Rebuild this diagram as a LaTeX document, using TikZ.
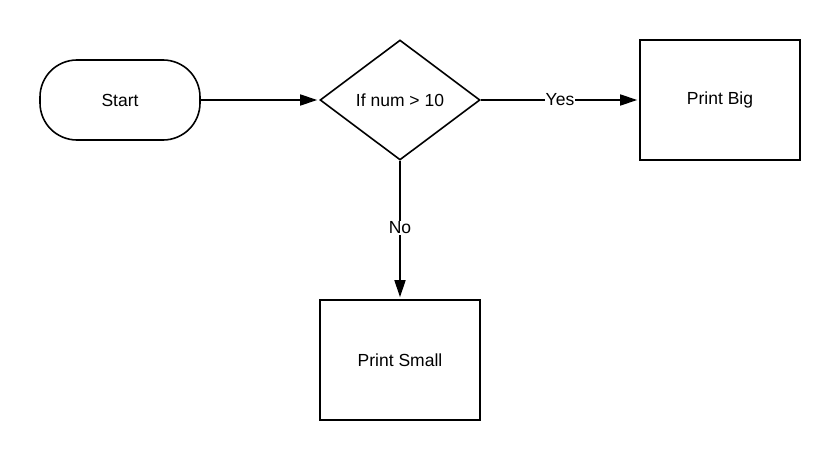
\documentclass[tikz,border=0pt]{standalone}
\usepackage{fontspec}
\setmainfont{Liberation Sans}
\usetikzlibrary{shapes.geometric,arrows.meta}
\begin{document}
\begin{tikzpicture}[x=1pt,y=-1pt,
  every node/.style={font=\fontsize{17.5}{20}\selectfont},
  box/.style={draw,line width=1.6pt,minimum width=160pt,minimum height=120pt,inner sep=0pt},
  term/.style={draw,line width=1.6pt,minimum width=160pt,minimum height=80pt,rounded corners=37pt,inner sep=0pt},
  dec/.style={draw,line width=1.6pt,diamond,minimum width=160pt,minimum height=120pt,inner sep=0pt,aspect=1.333},
  conn/.style={line width=1.6pt,-{Triangle[length=17pt,width=11pt]},shorten >=2pt},
  lbl/.style={fill=white,inner sep=1pt}]
\useasboundingbox (0,0) rectangle (840,460);
\node[term] (start) at (120,100) {Start};
\node[dec] (dec) at (400,100) {If num > 10};
\node[box] (big) at (720,100) {Print Big};
\node[box] (small) at (400,360) {Print Small};
\draw[conn] (start) -- (dec);
\draw[conn] (dec) -- node[lbl,pos=0.5] {Yes} (big);
\draw[conn] (dec) -- node[lbl,pos=0.485] {No} (small);
\end{tikzpicture}
\end{document}
